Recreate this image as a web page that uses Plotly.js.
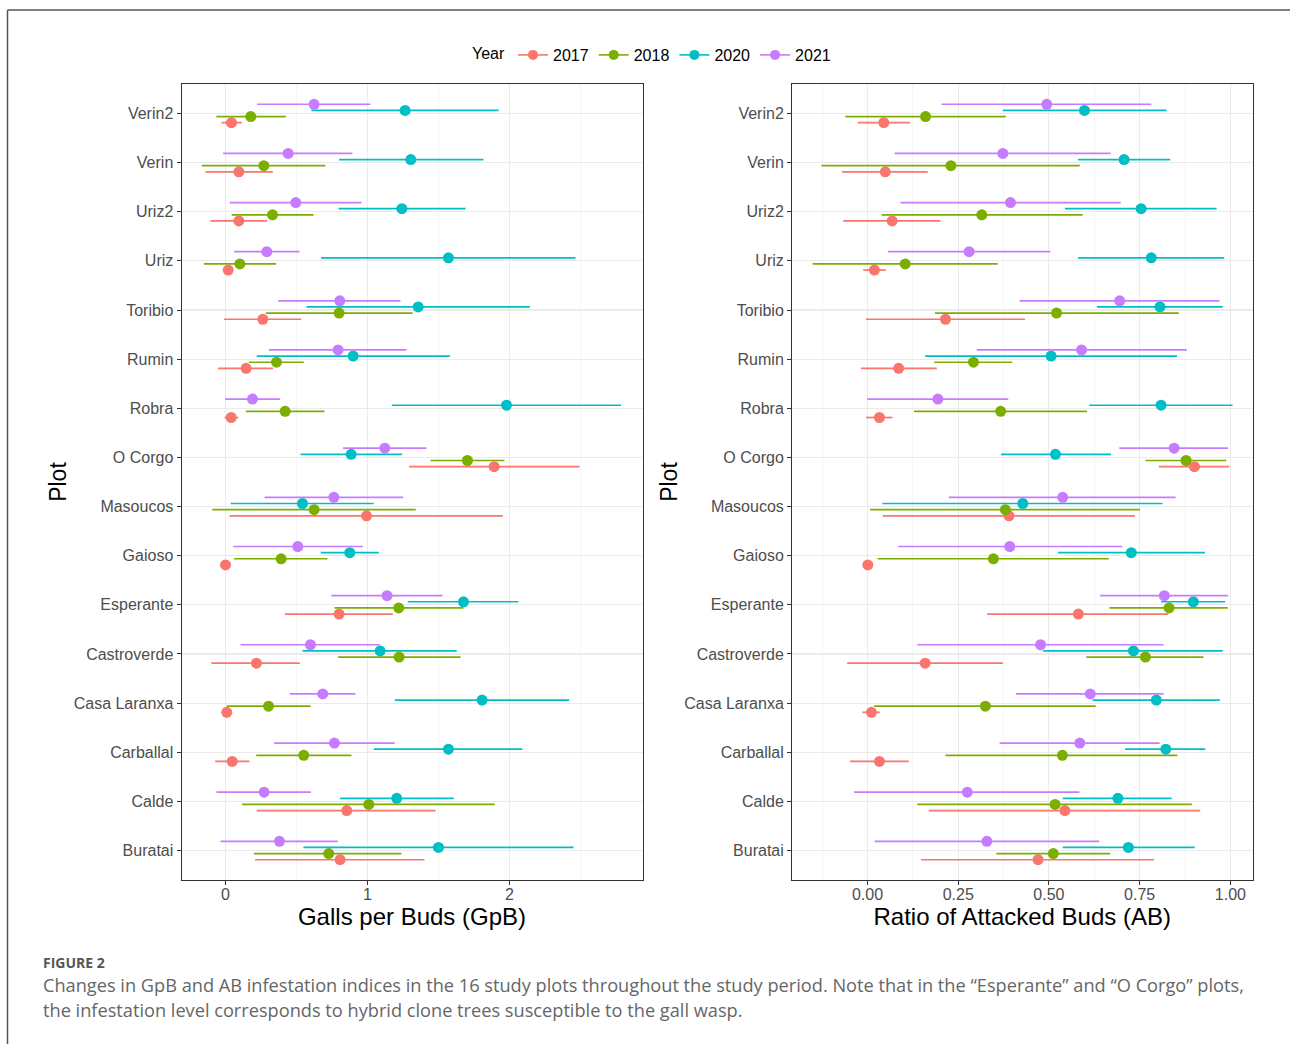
<!DOCTYPE html>
<html><head><meta charset="utf-8">
<script src="https://cdn.plot.ly/plotly-3.0.1.min.js"></script>
<style>html,body{margin:0;padding:0;background:#fff}#chart{width:1290px;height:1044px}</style>
</head><body><div id="chart"></div>
<script>
// Categories, bottom to top
const plots = ["Buratai","Calde","Carballal","Casa Laranxa","Castroverde","Esperante","Gaioso","Masoucos","O Corgo","Robra","Rumin","Toribio","Uriz","Uriz2","Verin","Verin2"];
const years = ["2017","2018","2020","2021"];
const yearColors = ["#F8766D","#7CAE00","#00BFC4","#C77CFF"];

// Galls per Buds (GpB): mean, lower, upper
const gpb2017 = [0.807,0.854,0.047,0.009,0.218,0.800,0.000,0.993,1.892,0.040,0.145,0.263,0.019,0.094,0.094,0.042];
const gpb2017Lo = [0.208,0.220,-0.073,0.000,-0.099,0.418,0.000,0.028,1.293,-0.007,-0.054,-0.010,0.000,-0.106,-0.141,-0.028];
const gpb2017Hi = [1.401,1.479,0.169,0.020,0.523,1.178,0.000,1.953,2.493,0.092,0.335,0.533,0.040,0.293,0.333,0.115];

const gpb2018 = [0.727,1.009,0.551,0.303,1.223,1.220,0.392,0.624,1.704,0.420,0.359,0.800,0.101,0.331,0.270,0.178];
const gpb2018Lo = [0.199,0.117,0.216,0.009,0.793,0.768,0.061,-0.094,1.444,0.143,0.164,0.284,-0.153,0.044,-0.167,-0.064];
const gpb2018Hi = [1.239,1.896,0.887,0.599,1.655,1.676,0.718,1.340,1.965,0.697,0.551,1.317,0.357,0.620,0.704,0.425];

const gpb2020 = [1.500,1.206,1.570,1.807,1.089,1.676,0.875,0.542,0.885,1.979,0.899,1.357,1.570,1.242,1.305,1.265];
const gpb2020Lo = [0.549,0.807,1.044,1.192,0.542,1.284,0.671,0.037,0.528,1.171,0.220,0.570,0.673,0.796,0.800,0.605];
const gpb2020Hi = [2.451,1.608,2.091,2.420,1.629,2.063,1.080,1.044,1.244,2.786,1.580,2.143,2.465,1.690,1.817,1.923];

const gpb2021 = [0.380,0.272,0.767,0.685,0.598,1.138,0.509,0.763,1.122,0.190,0.793,0.805,0.291,0.495,0.441,0.624];
const gpb2021Lo = [-0.035,-0.064,0.343,0.453,0.106,0.746,0.054,0.275,0.828,-0.003,0.305,0.371,0.061,0.030,-0.017,0.223];
const gpb2021Hi = [0.791,0.601,1.192,0.915,1.089,1.528,0.967,1.251,1.415,0.385,1.275,1.232,0.521,0.958,0.894,1.021];

// Ratio of Attacked Buds (AB): mean, lower, upper
const ab2017 = [0.470,0.544,0.033,0.011,0.159,0.581,0.001,0.390,0.901,0.033,0.086,0.215,0.019,0.068,0.049,0.045];
const ab2017Lo = [0.148,0.169,-0.048,-0.014,-0.056,0.330,0.001,0.042,0.803,-0.004,-0.018,-0.004,-0.012,-0.067,-0.070,-0.027];
const ab2017Hi = [0.790,0.917,0.114,0.034,0.373,0.829,0.001,0.737,0.997,0.069,0.191,0.434,0.051,0.201,0.166,0.117];

const ab2018 = [0.512,0.517,0.537,0.325,0.766,0.831,0.347,0.380,0.878,0.367,0.292,0.521,0.104,0.315,0.230,0.160];
const ab2018Lo = [0.355,0.137,0.215,0.018,0.603,0.667,0.028,0.007,0.766,0.128,0.184,0.186,-0.151,0.039,-0.127,-0.061];
const ab2018Hi = [0.669,0.894,0.854,0.629,0.926,0.993,0.665,0.751,0.989,0.605,0.399,0.858,0.359,0.593,0.585,0.381];

const ab2020 = [0.719,0.690,0.822,0.796,0.733,0.898,0.727,0.428,0.518,0.809,0.506,0.806,0.782,0.754,0.707,0.598];
const ab2020Lo = [0.538,0.538,0.710,0.620,0.484,0.809,0.525,0.041,0.368,0.611,0.159,0.632,0.580,0.544,0.580,0.373];
const ab2020Hi = [0.902,0.838,0.931,0.971,0.979,0.986,0.930,0.813,0.671,1.006,0.853,0.979,0.983,0.962,0.834,0.824];

const ab2021 = [0.329,0.275,0.585,0.614,0.477,0.818,0.392,0.538,0.845,0.194,0.590,0.695,0.280,0.394,0.373,0.494];
const ab2021Lo = [0.020,-0.037,0.364,0.409,0.137,0.641,0.085,0.224,0.694,-0.001,0.301,0.419,0.057,0.091,0.075,0.204];
const ab2021Hi = [0.639,0.584,0.805,0.816,0.816,0.994,0.702,0.849,0.993,0.388,0.880,0.970,0.504,0.698,0.670,0.782];

const gpbSeries = [[gpb2017,gpb2017Lo,gpb2017Hi],[gpb2018,gpb2018Lo,gpb2018Hi],[gpb2020,gpb2020Lo,gpb2020Hi],[gpb2021,gpb2021Lo,gpb2021Hi]];
const abSeries = [[ab2017,ab2017Lo,ab2017Hi],[ab2018,ab2018Lo,ab2018Hi],[ab2020,ab2020Lo,ab2020Hi],[ab2021,ab2021Lo,ab2021Hi]];

const catPos = plots.map((p,i)=>i+1);
const dodge = 0.5; // total dodge width
function offsetFor(k){ return (k - (years.length-1)/2) * dodge/years.length; }

const traces = [];
function addPanel(series, xa, ya){
  series.forEach((s,k)=>{
    const [m,lo,hi] = s;
    traces.push({
      type:'scatter', mode:'markers', xaxis:xa, yaxis:ya,
      x:m, y:catPos.map(c=>c+offsetFor(k)),
      marker:{color:yearColors[k], size:11},
      error_x:{type:'data', symmetric:false, array:m.map((v,i)=>hi[i]-v), arrayminus:m.map((v,i)=>v-lo[i]),
               color:yearColors[k], thickness:1.7, width:0},
      showlegend:false, hoverinfo:'skip', name:years[k]
    });
  });
}
addPanel(gpbSeries,'x','y');
addPanel(abSeries,'x2','y2');
years.forEach((yr,k)=>{
  traces.push({type:'scatter', mode:'lines+markers', x:[null], y:[null], name:yr,
    marker:{color:yearColors[k], size:10}, line:{color:yearColors[k], width:1.6}, showlegend:true, hoverinfo:'skip'});
});

const W=1290,H=1044;
const px=v=>v/W, py=v=>1-v/H;
const FAM='Liberation Sans, Arial, sans-serif';
const tickFont={family:FAM, size:16, color:'#4d4d4d'};
const baseX={showline:true, mirror:true, linecolor:'#333333', linewidth:1, ticks:'outside', ticklen:4, tickcolor:'#333333', tickwidth:1,
  showgrid:true, gridcolor:'#ebebeb', gridwidth:1.1, zeroline:false, tickfont:tickFont, fixedrange:true, ticklabelstandoff:-4};
const yRange=[0.4,16.6];
const baseY={showline:true, mirror:true, linecolor:'#333333', linewidth:1, ticks:'outside', ticklen:4, tickcolor:'#333333', tickwidth:1,
  showgrid:true, gridcolor:'#ebebeb', gridwidth:1.1, zeroline:false, tickfont:tickFont, tickvals:catPos, ticktext:plots,
  range:yRange, domain:[py(880),py(84)], title:{text:'Plot', font:{family:FAM, size:23, color:'#000'}, standoff:0}};

const layout={
  width:W, height:H, margin:{l:0,r:0,t:0,b:0}, paper_bgcolor:'#fff', plot_bgcolor:'#fff',
  font:{family:FAM},
  xaxis:Object.assign({}, baseX, {domain:[px(181.5),px(642.5)], range:[-0.31,2.937], tick0:0, dtick:1,
     minor:{dtick:0.5, tick0:0, showgrid:true, gridcolor:'#ebebeb', gridwidth:0.55, ticklen:0},
     title:{text:'Galls per Buds (GpB)', font:{family:FAM, size:24, color:'#000'}, standoff:2}, anchor:'y'}),
  yaxis:Object.assign({}, baseY, {anchor:'x'}),
  xaxis2:Object.assign({}, baseX, {domain:[px(792),px(1252.5)], range:[-0.208,1.061], tick0:0, dtick:0.25, tickformat:'.2f',
     minor:{dtick:0.125, tick0:0, showgrid:true, gridcolor:'#ebebeb', gridwidth:0.55, ticklen:0},
     title:{text:'Ratio of Attacked Buds (AB)', font:{family:FAM, size:24, color:'#000'}, standoff:2}, anchor:'y2'}),
  yaxis2:Object.assign({}, baseY, {anchor:'x2'}),
  showlegend:true,
  legend:{orientation:'h', x:px(470), xanchor:'left', y:py(38), yanchor:'top', bgcolor:'rgba(0,0,0,0)',
    title:{text:'Year', font:{size:16, color:'#000'}}, font:{size:16, color:'#000', family:FAM},
    itemwidth:30, traceorder:'normal'},
  shapes:[
    {type:'line', xref:'paper', yref:'paper', x0:px(7.5), x1:1, y0:py(10), y1:py(10), line:{color:'#555', width:1.5}},
    {type:'line', xref:'paper', yref:'paper', x0:px(7.5), x1:px(7.5), y0:py(10), y1:0, line:{color:'#555', width:1.5}}
  ],
  annotations:[
    {xref:'paper', yref:'paper', x:px(41), y:py(962), xanchor:'left', yanchor:'middle', showarrow:false,
     text:'<b>FIGURE 2</b>', font:{family:'Open Sans, sans-serif', size:14, color:'#555'}},
    {xref:'paper', yref:'paper', x:px(41), y:py(985), xanchor:'left', yanchor:'middle', showarrow:false,
     text:'Changes in GpB and AB infestation indices in the 16 study plots throughout the study period. Note that in the “Esperante” and “O Corgo” plots,',
     font:{family:'Open Sans, sans-serif', size:18.2, color:'#666'}},
    {xref:'paper', yref:'paper', x:px(41), y:py(1010), xanchor:'left', yanchor:'middle', showarrow:false,
     text:'the infestation level corresponds to hybrid clone trees susceptible to the gall wasp.',
     font:{family:'Open Sans, sans-serif', size:18.2, color:'#666'}}
  ]
};
Plotly.newPlot('chart', traces, layout, {displayModeBar:false, staticPlot:true});
</script></body></html>
